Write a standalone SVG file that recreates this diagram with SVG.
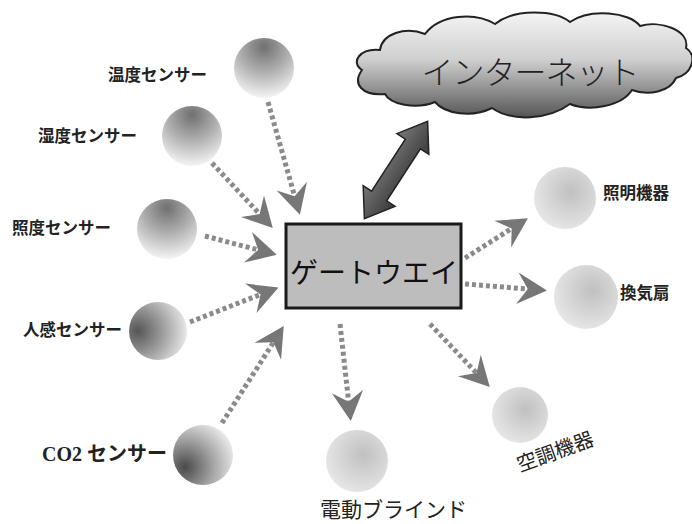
<svg xmlns="http://www.w3.org/2000/svg" width="692" height="524" viewBox="0 0 692 524">
<style>
.lbl{font-family:"Noto Sans CJK JP","Noto Sans",sans-serif;font-weight:bold;font-size:16.5px;fill:#222}
.conn{stroke:#8a8a8a;stroke-width:5;stroke-dasharray:4 3;fill:none}
.sph{stroke:none}
</style>
<defs>
<radialGradient id="sphA" cx="0.5" cy="0.15" r="0.85">
<stop offset="0" stop-color="#707070"/><stop offset="0.5" stop-color="#b0b0b0"/><stop offset="1" stop-color="#f4f4f4"/>
</radialGradient>
<radialGradient id="sphB" cx="0.15" cy="0.5" r="0.9">
<stop offset="0" stop-color="#555"/><stop offset="0.5" stop-color="#a0a0a0"/><stop offset="1" stop-color="#f0f0f0"/>
</radialGradient>
<radialGradient id="sphC" cx="0.2" cy="0.7" r="0.9">
<stop offset="0" stop-color="#4a4a4a"/><stop offset="0.5" stop-color="#a0a0a0"/><stop offset="1" stop-color="#f2f2f2"/>
</radialGradient>
<radialGradient id="sphL" cx="0.6" cy="0.4" r="0.8">
<stop offset="0" stop-color="#c0c0c0"/><stop offset="1" stop-color="#f0f0f0"/>
</radialGradient>
<linearGradient id="cloudG" x1="0" y1="0" x2="0" y2="1">
<stop offset="0" stop-color="#f4f4f4"/><stop offset="0.45" stop-color="#cfcfcf"/><stop offset="1" stop-color="#555"/>
</linearGradient>
<linearGradient id="arrG" x1="0" y1="0" x2="0" y2="1">
<stop offset="0" stop-color="#777"/><stop offset="1" stop-color="#3a3a3a"/>
</linearGradient>
<marker id="chev" viewBox="0 0 20 20" refX="14" refY="10" markerWidth="7" markerHeight="7" orient="auto" markerUnits="strokeWidth">
<path d="M1,1 L18,10 L1,19 L7,10 Z" fill="#777"/>
</marker>
</defs>

<g id="connectors">
<line class="conn" x1="268" y1="102" x2="298" y2="208" marker-end="url(#chev)"/>
<line class="conn" x1="212" y1="163" x2="268" y2="223" marker-end="url(#chev)"/>
<line class="conn" x1="205" y1="236" x2="270" y2="253" marker-end="url(#chev)"/>
<line class="conn" x1="190" y1="322" x2="272" y2="290" marker-end="url(#chev)"/>
<line class="conn" x1="222" y1="423" x2="280" y2="332" marker-end="url(#chev)"/>
<line class="conn" x1="340" y1="324" x2="350" y2="414" marker-end="url(#chev)"/>
<line class="conn" x1="430" y1="324" x2="485" y2="382" marker-end="url(#chev)"/>
<line class="conn" x1="465" y1="284" x2="540" y2="290" marker-end="url(#chev)"/>
<line class="conn" x1="465" y1="258" x2="522" y2="222" marker-end="url(#chev)"/>
<g id="link-internet" transform="translate(396,170) rotate(-57)">
<polygon points="-58,0 -31,-19 -31,-9 31,-9 31,-19 58,0 31,19 31,9 -31,9 -31,19" fill="url(#arrG)" stroke="#222" stroke-width="1.5"/>
</g>
</g>

<g id="internet">
<path d="M362,70 C350,62 360,48 380,50 C382,34 405,26 425,34 C440,14 475,12 495,24 C515,8 555,10 570,22 C590,8 630,12 640,26 C660,20 690,30 686,48 C698,56 692,74 676,78 C670,92 648,96 632,90 C622,106 590,112 570,104 C548,120 512,122 492,108 C472,118 445,114 435,102 C415,110 390,104 385,94 C362,96 352,84 362,70 Z" fill="url(#cloudG)" stroke="#222" stroke-width="2"/>
<text x="530" y="84" text-anchor="middle" font-family="'Noto Sans CJK JP',sans-serif" font-size="32" font-weight="300" letter-spacing="-1" fill="#222">インターネット</text>
</g>

<g id="gateway">
<rect x="286" y="224" width="175" height="84" fill="#bdbdbd" stroke="#1a1a1a" stroke-width="3"/>
<text x="374" y="283" text-anchor="middle" font-family="'Noto Sans CJK JP',sans-serif" font-size="28" fill="#111">ゲートウエイ</text>
</g>

<g id="temp-sensor">
<circle class="sph" cx="264" cy="68" r="30" fill="url(#sphA)"/>
<text class="lbl" x="108" y="81">温度センサー</text>
</g>
<g id="humidity-sensor">
<circle class="sph" cx="192" cy="136" r="30" fill="url(#sphA)"/>
<text class="lbl" x="38" y="142">湿度センサー</text>
</g>
<g id="illuminance-sensor">
<circle class="sph" cx="167" cy="229" r="30" fill="url(#sphA)"/>
<text class="lbl" x="12" y="234">照度センサー</text>
</g>
<g id="motion-sensor">
<circle class="sph" cx="158" cy="331" r="29" fill="url(#sphB)"/>
<text class="lbl" x="23" y="336">人感センサー</text>
</g>
<g id="co2-sensor">
<circle class="sph" cx="203" cy="455" r="30" fill="url(#sphC)"/>
<text x="42" y="461" font-family="'Liberation Serif','Noto Sans CJK JP',serif" font-size="20" font-weight="bold" fill="#222">CO2 センサー</text>
</g>
<g id="blind">
<circle class="sph" cx="357" cy="461" r="31" fill="url(#sphL)"/>
<text x="320" y="517" font-family="'Noto Sans CJK JP',sans-serif" font-size="21" fill="#222">電動ブラインド</text>
</g>
<g id="aircon">
<circle class="sph" cx="520" cy="415" r="28" fill="url(#sphL)"/>
<text x="520" y="472" font-family="'Noto Sans CJK JP',sans-serif" font-size="20" fill="#222" transform="rotate(-20 520 472)">空調機器</text>
</g>
<g id="fan">
<circle class="sph" cx="586" cy="297" r="32" fill="url(#sphL)"/>
<text class="lbl" x="620" y="299">換気扇</text>
</g>
<g id="lighting">
<circle class="sph" cx="565" cy="198" r="31" fill="url(#sphL)"/>
<text class="lbl" x="603" y="199">照明機器</text>
</g>
</svg>
